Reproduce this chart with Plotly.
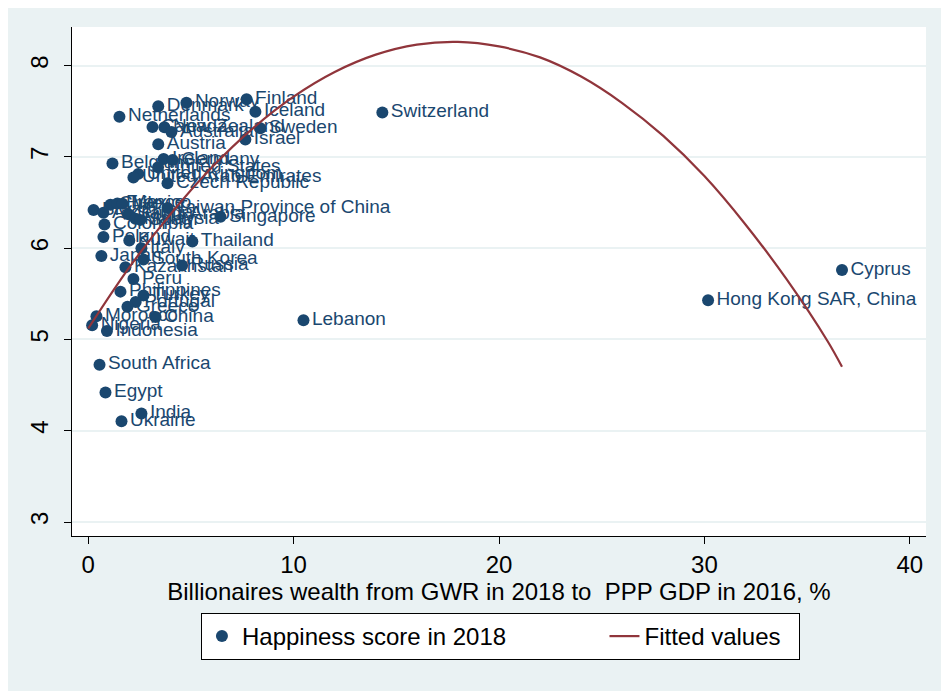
import plotly.graph_objects as go

countries = ["Finland", "Norway", "Denmark", "Iceland", "Switzerland", "Netherlands",
             "Canada", "New Zealand", "Sweden", "Australia", "Israel", "Austria",
             "Ireland", "Germany", "Belgium", "United States", "United Kingdom",
             "United Arab Emirates", "Czech Republic", "Chile", "France", "Mexico",
             "Taiwan Province of China", "Brazil", "Argentina", "Saudi Arabia",
             "Singapore", "Malaysia", "Spain", "Colombia", "Poland", "Kuwait",
             "Thailand", "Italy", "Japan", "South Korea", "Russia", "Kazakhstan",
             "Cyprus", "Peru", "Philippines", "Turkey", "Hong Kong SAR, China",
             "Portugal", "Greece", "Lebanon", "Morocco", "China", "Nigeria",
             "Indonesia", "South Africa", "Egypt", "India", "Ukraine"]

wealth_pct = [7.71, 4.78, 3.41, 8.14, 14.32, 1.52,
              3.13, 3.71, 8.38, 4.05, 7.65, 3.41,
              3.67, 4.11, 1.18, 3.40, 2.44,
              2.20, 3.86, 1.08, 1.42, 1.67,
              3.86, 0.26, 0.74, 1.96,
              6.44, 2.30, 2.54, 0.79, 0.74, 2.00,
              5.07, 2.59, 0.64, 2.69, 4.57, 1.81,
              36.70, 2.20, 1.57, 2.69, 30.18,
              2.31, 1.91, 10.48, 0.40, 3.28, 0.19,
              0.91, 0.55, 0.84, 2.59, 1.62]

happiness = [7.632, 7.594, 7.555, 7.495, 7.487, 7.441,
             7.328, 7.324, 7.314, 7.272, 7.190, 7.139,
             6.977, 6.965, 6.927, 6.886, 6.814,
             6.774, 6.711, 6.476, 6.489, 6.488,
             6.441, 6.419, 6.388, 6.371,
             6.343, 6.322, 6.310, 6.260, 6.123, 6.083,
             6.072, 6.000, 5.915, 5.875, 5.810, 5.790,
             5.762, 5.663, 5.524, 5.483, 5.430,
             5.410, 5.358, 5.210, 5.254, 5.246, 5.155,
             5.093, 4.724, 4.419, 4.190, 4.103]

# fitted (quadratic) values
fit_x = [0, 2, 4, 6, 8, 10, 12, 14, 16, 18, 20, 22, 24, 26, 28, 30, 32, 34, 36, 36.7]
fit_y = [5.12, 5.79, 6.37, 6.88, 7.31, 7.66, 7.93, 8.12, 8.23, 8.26, 8.21, 8.09,
         7.88, 7.59, 7.23, 6.79, 6.26, 5.66, 4.98, 4.70]

x_ticks = [0, 10, 20, 30, 40]
y_ticks = [3, 4, 5, 6, 7, 8]

NAVY = "#1a476f"
MAROON = "#90353b"
BG = "#eaf2f3"
FONT = "Liberation Sans, Arial, sans-serif"
PAD = "\u00a0"

fig = go.Figure()
fig.add_trace(go.Scatter(
    x=wealth_pct, y=happiness, mode="markers+text", text=countries,
    textposition="middle right",
    textfont=dict(family=FONT, size=19, color=NAVY),
    marker=dict(size=12, color=NAVY),
    name="Happiness score in 2018" + PAD * 14, cliponaxis=False))
fig.add_trace(go.Scatter(
    x=fit_x, y=fit_y, mode="lines", line=dict(color=MAROON, width=2.2, shape="spline"),
    name="Fitted values" + PAD * 2))

fig.update_layout(
    width=949, height=691,
    paper_bgcolor=BG, plot_bgcolor="white",
    margin=dict(l=64, r=31, t=19, b=163, autoexpand=False),
    font=dict(family=FONT, size=24, color="black"),
    showlegend=True,
    legend=dict(orientation="h", x=0.151, xanchor="left", y=-0.1513, yanchor="top",
                bgcolor="white", bordercolor="black", borderwidth=1,
                font=dict(size=24), itemwidth=30),
    xaxis=dict(range=[-0.79, 40.79], tickvals=x_ticks, showgrid=False, zeroline=False,
               showline=True, linecolor="black", linewidth=1, automargin=False,
               ticks="outside", ticklen=7, tickcolor="black", ticklabelstandoff=0,
               tickfont=dict(size=24),
               title=dict(text="Billionaires wealth from GWR in 2018 to\u00a0 PPP GDP in 2016, %",
                          font=dict(size=24), standoff=0)),
    yaxis=dict(range=[2.847, 8.423], tickvals=y_ticks, showgrid=True, gridcolor=BG,
               gridwidth=2, zeroline=False, showline=True, linecolor="black", linewidth=1,
               automargin=False,
               ticks="outside", ticklen=7, tickcolor="black", tickangle=-90,
               ticklabelstandoff=6, tickfont=dict(size=24)),
)

fig.write_html("out.html")
